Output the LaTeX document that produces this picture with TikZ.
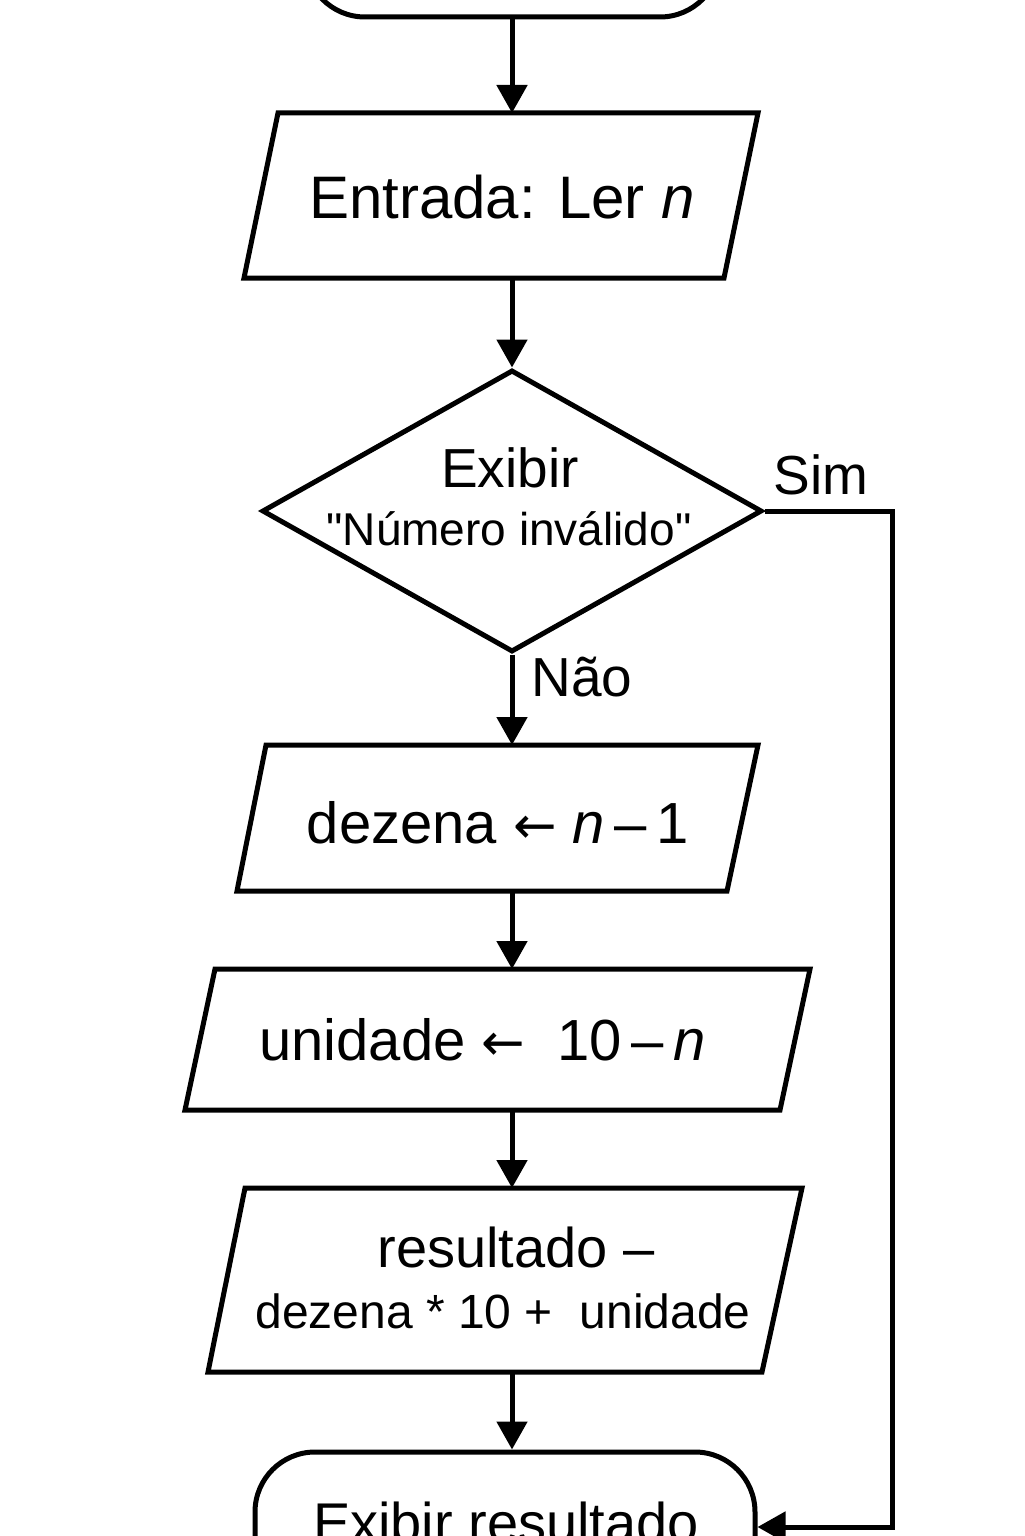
\documentclass[tikz,border=0pt]{standalone}
\usepackage{fontspec}
\setmainfont{Liberation Sans}
\newfontfamily\arrowfont{DejaVu Sans}
\font\quotefont="Liberation Sans" at 23pt
\usetikzlibrary{arrows.meta,shapes.geometric}
\newcommand{\fs}[1]{\fontsize{#1}{#1}\selectfont}
\newcommand{\larr}{{\arrowfont\fontsize{26}{26}\selectfont ←}}
\begin{document}
\begin{tikzpicture}[x=0.5pt,y=-0.5pt,
  shp/.style={line width=2.5pt, line join=miter},
  term/.style={shp, draw, rectangle, rounded corners=30pt, inner sep=0pt},
  pbox/.style={draw=none, rectangle, inner sep=0pt, outer sep=0pt},
  arr/.style={line width=2.5pt, -{Triangle[length=14pt,width=15pt]}},
  lbl/.style={inner sep=0pt, anchor=base}
]
\useasboundingbox (0,0) rectangle (1024,1536);
\clip (0,0) rectangle (1024,1536);

% terminals
\node[term, minimum width=207.5pt, minimum height=75pt] (start) at (512.5,-58) {};
\node[term, minimum width=250pt, minimum height=75pt] (end) at (505,1527) {};

% parallelogram boxes
\node[pbox, minimum width=257pt, minimum height=82.5pt] (p1) at (501,195.5) {};
\node[pbox, minimum width=260.5pt, minimum height=73pt] (p2) at (497.5,818) {};
\node[pbox, minimum width=312.5pt, minimum height=70.5pt] (p3) at (497.5,1039.5) {};
\node[pbox, minimum width=297pt, minimum height=92pt] (p4) at (505,1280) {};
\draw[shp] ([xshift=17pt]p1.north west) -- (p1.north east) -- ([xshift=-17pt]p1.south east) -- (p1.south west) -- cycle;
\draw[shp] ([xshift=14.5pt]p2.north west) -- (p2.north east) -- ([xshift=-15.5pt]p2.south east) -- (p2.south west) -- cycle;
\draw[shp] ([xshift=15pt]p3.north west) -- (p3.north east) -- ([xshift=-15pt]p3.south east) -- (p3.south west) -- cycle;
\draw[shp] ([xshift=18.5pt]p4.north west) -- (p4.north east) -- ([xshift=-20pt]p4.south east) -- (p4.south west) -- cycle;

% decision
\node[shp, draw, diamond, inner sep=0pt, minimum width=250pt, minimum height=141pt] (dec) at (512,511) {};

% texts
\node[lbl, font=\fs{30}] (t1) at (502,218) {Entrada: Ler \textit{n}};
\node[lbl, font=\fs{27.5}] (d1) at (510,487) {Exibir};
\node[lbl] (d2) at (509,545) {\quotefont "Número inválido"};
\node[lbl, font=\fs{29}] (t2) at (498,843) {dezena \larr\ \textit{n}\,–\,1};
\node[lbl, font=\fs{29}] (t3) at (482.5,1060) {unidade \larr\ \ 10\,–\,\textit{n}};
\node[lbl, font=\fs{28}] (t4a) at (516,1267) {resultado –};
\node[lbl, font=\fs{24}] (t4b) at (503,1328) {dezena * 10 +\ \ unidade};
\node[lbl, font=\fs{28}] (t5) at (506,1542) {Exibir resultado};
\node[lbl, anchor=base west, font=\fs{27.5}] (sim) at (773,494) {Sim};
\node[lbl, anchor=base west, font=\fs{27.5}] (nao) at (531,696) {Não};

% connectors
\draw[arr] (start.south -| dec.north) -- (dec.north |- p1.north);
\draw[arr] (dec.north |- p1.south) -- (dec.north);
\draw[arr] (dec.south) -- (dec.south |- p2.north);
\draw[arr] (dec.south |- p2.south) -- (dec.south |- p3.north);
\draw[arr] (dec.south |- p3.south) -- (dec.south |- p4.north);
\draw[arr] (dec.south |- p4.south) -- (dec.south |- end.north);
\draw[arr] (dec.east) -- ++(128,0) |- (end.east);
\end{tikzpicture}
\end{document}
